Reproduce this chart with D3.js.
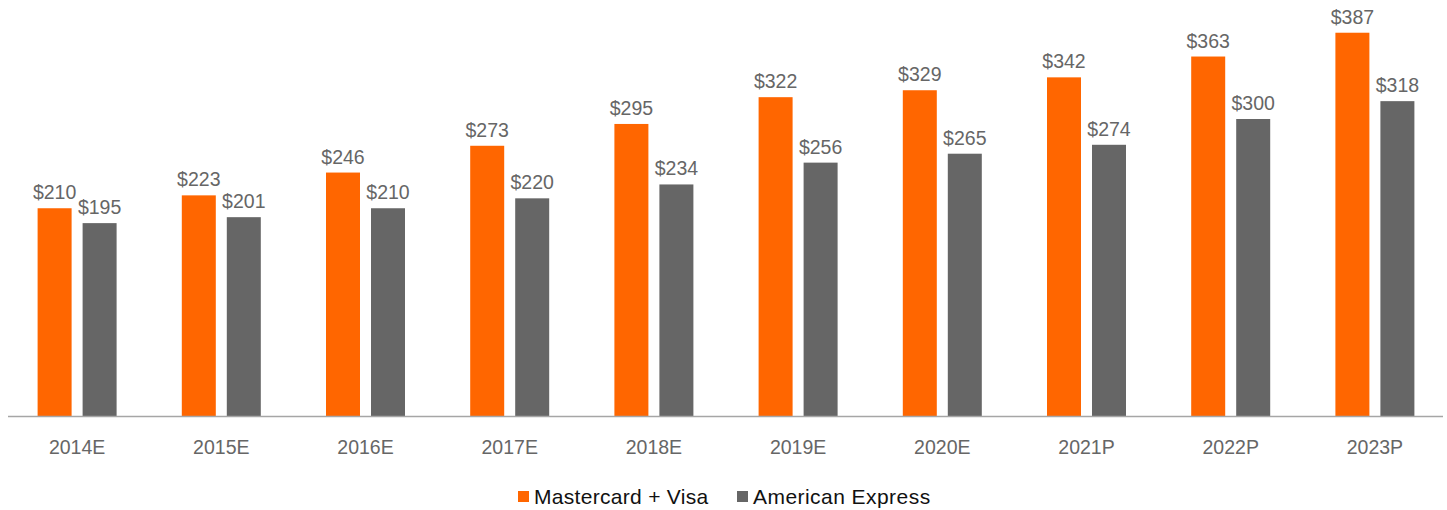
<!DOCTYPE html>
<html>
<head>
<meta charset="utf-8">
<script src="https://cdn.jsdelivr.net/npm/d3@7"></script>
<style>
  body { margin: 0; background: #fff; }
  #chart { width: 1447px; height: 510px; }
  text { font-family: "Liberation Sans", Arial, sans-serif; }
</style>
</head>
<body>
<div id="chart"></div>
<script>
const years = ['2014E', '2015E', '2016E', '2017E', '2018E', '2019E', '2020E', '2021P', '2022P', '2023P']
const mcVisa = [210, 223, 246, 273, 295, 322, 329, 342, 363, 387]
const amex = [195, 201, 210, 220, 234, 256, 265, 274, 300, 318]
const seriesNames = ['Mastercard + Visa', 'American Express']
const colors = ['#ff6600', '#666666']

const width = 1447
const height = 510
const baseY = 416.5

const svg = d3.select('#chart')
  .append('svg')
  .attr('width', width)
  .attr('height', height)
  .attr('viewBox', [0, 0, width, height])

const x0 = d3.scaleBand()
  .domain(years)
  .range([5, 1447])
  .padding(0)

const x1 = d3.scaleBand()
  .domain([0, 1])
  .range([-39.5, 39.5])
  .paddingInner(2 - 79 / 45)

const y = d3.scaleLinear()
  .domain([0, 420])
  .range([baseY, 0])

const rows = years.map((yr, i) => ({ year: yr, values: [mcVisa[i], amex[i]] }))

const groups = svg.append('g')
  .selectAll('g')
  .data(rows)
  .join('g')
  .attr('transform', (d) => `translate(${x0(d.year) + x0.bandwidth() / 2},0)`)

groups.selectAll('rect')
  .data((d) => d.values.map((v, k) => ({ k, v })))
  .join('rect')
  .attr('x', (d) => x1(d.k))
  .attr('width', x1.bandwidth())
  .attr('y', (d) => y(d.v))
  .attr('height', (d) => y(0) - y(d.v))
  .attr('fill', (d) => colors[d.k])

groups.selectAll('text')
  .data((d) => d.values.map((v, k) => ({ k, v })))
  .join('text')
  .attr('x', (d) => x1(d.k) + x1.bandwidth() / 2)
  .attr('y', (d) => y(d.v) - 9)
  .attr('text-anchor', 'middle')
  .attr('font-size', 19.5)
  .attr('fill', '#666666')
  .text((d) => `$${d.v}`)

// baseline
svg.append('line')
  .attr('x1', 8)
  .attr('x2', 1443)
  .attr('y1', baseY)
  .attr('y2', baseY)
  .attr('stroke', '#a6a6a6')
  .attr('stroke-width', 1.5)

svg.append('g')
  .attr('transform', `translate(0,${baseY})`)
  .call(d3.axisBottom(x0).tickSize(0).tickPadding(24))
  .call((g) => g.select('.domain').remove())
  .call((g) => g.selectAll('text')
    .attr('font-family', '"Liberation Sans", Arial, sans-serif')
    .attr('font-size', 19.5)
    .attr('fill', '#666666'))

// legend
const legendX = [518, 737]
const legend = svg.append('g')
  .selectAll('g')
  .data(seriesNames)
  .join('g')
  .attr('transform', (d, i) => `translate(${legendX[i]},491)`)

legend.append('rect')
  .attr('width', 11)
  .attr('height', 11)
  .attr('fill', (d, i) => colors[i])

legend.append('text')
  .attr('x', 16)
  .attr('y', 12.5)
  .attr('font-size', 21)
  .attr('letter-spacing', (d, i) => (i ? 0.45 : 0.3))
  .attr('fill', '#111111')
  .text((d) => d)
</script>
</body>
</html>
